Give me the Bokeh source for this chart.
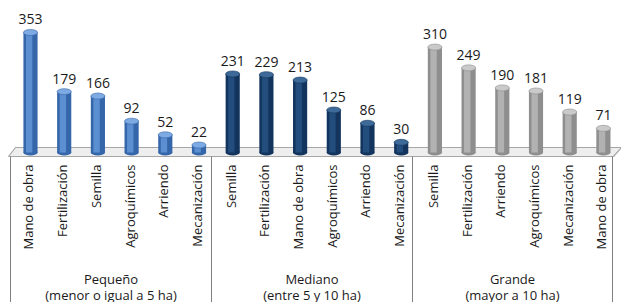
import numpy as np
from bokeh.plotting import figure
from bokeh.models import Range1d, ColumnDataSource
from bokeh.embed import file_html
from bokeh.resources import INLINE
from bokeh.core.properties import value

# ---------------- data ----------------
groups = ["Pequeño", "Mediano", "Grande"]
group_notes = ["(menor o igual a 5 ha)", "(entre 5 y 10 ha)", "(mayor a 10 ha)"]

pequeno_cats = ["Mano de obra", "Fertilización", "Semilla", "Agroquímicos", "Arriendo", "Mecanización"]
pequeno_vals = [353, 179, 166, 92, 52, 22]

mediano_cats = ["Semilla", "Fertilización", "Mano de obra", "Agroquímicos", "Arriendo", "Mecanización"]
mediano_vals = [231, 229, 213, 125, 86, 30]

grande_cats = ["Semilla", "Fertilización", "Arriendo", "Agroquímicos", "Mecanización", "Mano de obra"]
grande_vals = [310, 249, 190, 181, 119, 71]

group_cats = [pequeno_cats, mediano_cats, grande_cats]
group_vals = [pequeno_vals, mediano_vals, grande_vals]

# colours: (edge, centre highlight, cap)
palette = [("#3566aa", "#5f93d6", "#7eaae3"),
           ("#13355d", "#25507f", "#3d6a98"),
           ("#8e8e8e", "#b6b6b6", "#cacaca")]

# ---------------- geometry ----------------
W, H = 621, 302
SX = 33.7      # px per bar slot
SY = 0.34      # px per value unit
X0 = 30        # first bar centre, px from figure left
BASE = 152     # value 0, px from figure top

x_start = -X0 / SX
x_end = x_start + W / SX
y_end = BASE / SY
y_start = y_end - H / SY


def fx(px):
    return x_start + px / SX


def fy(py):
    return y_end - py / SY


p = figure(width=W, height=H, output_backend="svg", toolbar_location=None,
           x_range=Range1d(x_start, x_end), y_range=Range1d(y_start, y_end),
           min_border=0, outline_line_color=None)
p.axis.visible = False
p.grid.visible = False
p.background_fill_color = "white"
p.border_fill_color = "white"

FONT = value("Open Sans")

# floor (3D base plate)
p.patch([fx(8), fx(15), fx(621), fx(613)],
        [fy(156), fy(147), fy(147), fy(156)],
        fill_color="#eeeeee", line_color="#a6a6a6", line_width=1.2)

bw = 0.42
cap_h = 6 / SY
for g in range(3):
    xs = [g * 6 + i for i in range(len(group_vals[g]))]
    vals = group_vals[g]
    edge, mid, cap = palette[g]
    src = ColumnDataSource(dict(x=xs, top=vals, lab=[str(v) for v in vals],
                                xh=[x - 0.04 for x in xs]))
    p.ellipse(x="x", y=0, width=bw, height=cap_h, source=src,
              fill_color=edge, line_color=None)
    p.vbar(x="x", top="top", bottom=0, width=bw, source=src,
           fill_color=edge, line_color=None)
    p.vbar(x="xh", top="top", bottom=0, width=bw * 0.45, source=src,
           fill_color=mid, line_color=None, fill_alpha=0.9)
    p.ellipse(x="x", y="top", width=bw, height=cap_h, source=src,
              fill_color=cap, line_color=edge, line_width=0.6)
    p.text(x="x", y="top", text="lab", source=src, text_align="center",
           text_baseline="bottom", y_offset=-8, text_font=FONT,
           text_font_size="14px", text_color="#1a1a1a")
    # category labels (rotated)
    cs = ColumnDataSource(dict(x=[x - 0.06 for x in xs], y=[fy(164)] * len(xs),
                               t=group_cats[g]))
    p.text(x="x", y="y", text="t", source=cs, angle=np.pi / 2,
           text_align="right", text_baseline="middle", text_font=FONT,
           text_font_size="13px", text_color="#1a1a1a")

# category box lines
bounds = [fx(10), fx(211), fx(412), fx(612)]
p.segment(x0=bounds, y0=[fy(156)] * 4, x1=bounds, y1=[fy(H + 5)] * 4,
          line_color="#7f7f7f", line_width=1)

centres = [(bounds[i] + bounds[i + 1]) / 2 for i in range(3)]
p.text(x=centres, y=[fy(278)] * 3, text=groups, text_align="center",
       text_baseline="middle", text_font=FONT, text_font_size="13px",
       text_color="#1a1a1a")
p.text(x=centres, y=[fy(294)] * 3, text=group_notes, text_align="center",
       text_baseline="middle", text_font=FONT, text_font_size="13px",
       text_color="#1a1a1a")

open("out.html", "w").write(file_html(p, INLINE))
